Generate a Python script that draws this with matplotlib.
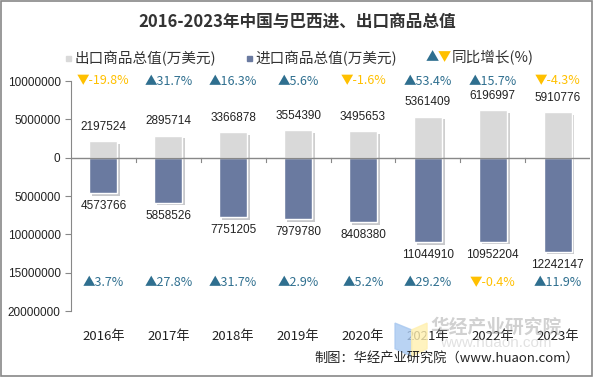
import numpy as np
import matplotlib.pyplot as plt
import matplotlib.patheffects as pe
from matplotlib.patches import Rectangle, Polygon
from matplotlib.ticker import FuncFormatter

years = ['2016年', '2017年', '2018年', '2019年', '2020年', '2021年', '2022年', '2023年']
exports = [2197524, 2895714, 3366878, 3554390, 3495653, 5361409, 6196997, 5910776]
imports = [4573766, 5858526, 7751205, 7979780, 8408380, 11044910, 10952204, 12242147]
export_growth = [-19.8, 31.7, 16.3, 5.6, -1.6, 53.4, 15.7, -4.3]
import_growth = [3.7, 27.8, 31.7, 2.9, 5.2, 29.2, -0.4, 11.9]

cjk = ['Noto Sans CJK SC', 'DejaVu Sans']
num = ['Liberation Sans', 'DejaVu Sans']
up_color = '#2f6f8f'
down_color = '#ffc000'
exp_color = '#d9d9d9'
imp_color = '#6a7aa0'

fig = plt.figure(figsize=(5.94, 3.77), dpi=100)
ax = fig.add_axes([0.1195, 0.175, 0.874, 0.61])

x = np.arange(len(years))
w = 0.43
shadow = [pe.SimplePatchShadow(offset=(2, -2), alpha=0.25), pe.Normal()]
b1 = ax.bar(x, exports, w, color=exp_color, edgecolor='white', linewidth=1)
b2 = ax.bar(x, [-v for v in imports], w, color=imp_color, edgecolor='white', linewidth=1)
for b in list(b1) + list(b2):
    b.set_path_effects(shadow)

for i in range(len(years)):
    ax.annotate(str(exports[i]), (x[i], exports[i]), xytext=(0, 6), textcoords='offset points',
                ha='center', va='bottom', fontsize=8.5, family=num, color='#222222')
    ax.annotate(str(imports[i]), (x[i], -imports[i]), xytext=(0, -5), textcoords='offset points',
                ha='center', va='top', fontsize=8.5, family=num, color='#222222')
    for g, yy in ((export_growth[i], 10000000), (import_growth[i], -16300000)):
        if g >= 0:
            s, c = '▲%.1f%%' % g, up_color
        else:
            s, c = '▼%.1f%%' % g, down_color
        ax.text(x[i], yy, s, ha='center', va='center', fontsize=9, family=cjk, color=c)

ax.axhline(0, color='#888888', lw=1)
for xm in np.arange(len(years) - 1) + 0.5:
    ax.plot([xm, xm], [0, -500000], color='#888888', lw=0.8)

ax.set_xlim(-0.5, len(years) - 0.5)
ax.set_ylim(-20000000, 10000000)
ax.set_yticks(np.arange(-20000000, 10000001, 5000000))
ax.yaxis.set_major_formatter(FuncFormatter(lambda v, p: '%d' % abs(v)))
ax.set_xticks(x)
ax.set_xticklabels(years, family=cjk, fontsize=9.5, color='#222222')
ax.tick_params(axis='x', length=0, pad=14)
ax.tick_params(axis='y', length=4, color='#888888', labelsize=8.5, labelcolor='#222222')
for t in ax.get_yticklabels():
    t.set_family(num)
for sp in ['top', 'right', 'bottom']:
    ax.spines[sp].set_visible(False)
ax.spines['left'].set_color('#888888')

fig.text(0.5, 0.942, '2016-2023年中国与巴西进、出口商品总值', ha='center', va='center',
         fontsize=12, fontweight='bold', family=cjk, color='#333333')

# legend
ly = 0.846
fig.patches.append(Rectangle((0.111, ly - 0.008), 0.008, 0.014, transform=fig.transFigure, color=exp_color))
fig.text(0.125, ly, '出口商品总值(万美元)', ha='left', va='center', fontsize=10.5, family=cjk, color='#333333')
fig.patches.append(Rectangle((0.416, ly - 0.008), 0.008, 0.014, transform=fig.transFigure, color=imp_color))
fig.text(0.43, ly, '进口商品总值(万美元)', ha='left', va='center', fontsize=10.5, family=cjk, color='#333333')
fig.text(0.717, ly, '▲', ha='left', va='center', fontsize=9.5, family=cjk, color=up_color)
fig.text(0.737, ly, '▼', ha='left', va='center', fontsize=9.5, family=cjk, color=down_color)
fig.text(0.761, ly, '同比增长(%)', ha='left', va='center', fontsize=10.5, family=cjk, color='#333333')

# watermark
fig.patches.append(Polygon([[0.665, 0.143], [0.693, 0.125], [0.693, 0.055], [0.665, 0.075]], closed=True,
                           transform=fig.transFigure, color='#a8c8f0', alpha=0.8))
fig.patches.append(Polygon([[0.693, 0.125], [0.719, 0.143], [0.719, 0.075], [0.693, 0.055]], closed=True,
                           transform=fig.transFigure, color='#fff0b0', alpha=0.8))
fig.text(0.724, 0.132, '华经产业研究院', ha='left', va='center', fontsize=13.5, fontweight='bold',
         family=cjk, color='#999999', alpha=0.45)
fig.text(0.74, 0.09, 'www.huaon.com', ha='left', va='center', fontsize=11, family=num, color='#aaaaaa', alpha=0.35)

fig.text(0.975, 0.05, '制图：华经产业研究院（www.huaon.com）', ha='right', va='center', fontsize=9.5,
         family=cjk, color='#222222')

fig.patches.append(Rectangle((0.002, 0.003), 0.995, 0.994, transform=fig.transFigure,
                             fill=False, edgecolor='#888888', lw=1.2))

fig.savefig('out.png', dpi=100)
